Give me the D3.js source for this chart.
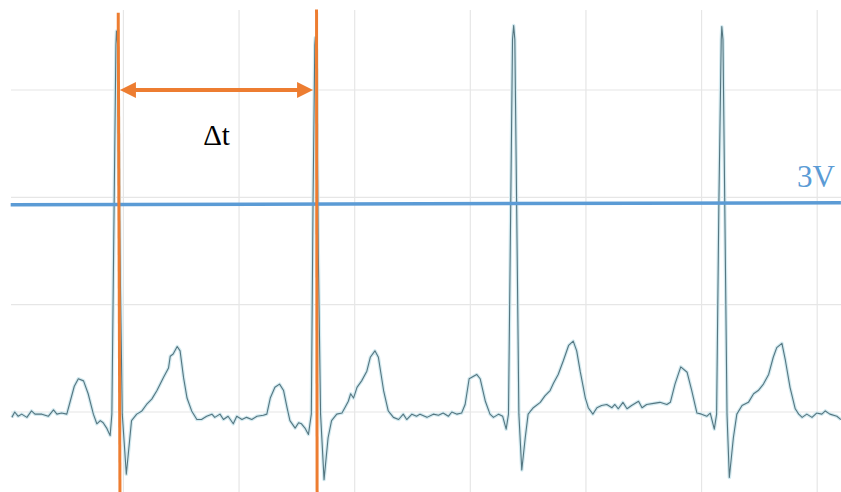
<!DOCTYPE html>
<html lang="en">
<head>
	<meta charset="utf-8">
	<title>ECG - R peak interval</title>
	<script src="https://cdnjs.cloudflare.com/ajax/libs/d3/7.8.5/d3.min.js"></script>
	<style>
		body { margin:0; background:#fff; }
		.grid line { stroke:#e6e6e6; stroke-width:1.2; }
		.trace-glow { fill:none; stroke:#d3eaf0; stroke-width:3.5; stroke-linejoin:round; }
		.trace { fill:none; stroke:#557680; stroke-width:1.1; stroke-linejoin:round; }
		.serif { font-family:'Liberation Serif', 'Times New Roman', serif; }
	</style>
</head>
<body>
	<div class="chart"></div>

	<script>
		// time in ms, voltage in grid units (one division per unit)
		var timeMs = [7,12,18,24,33,41,47,59,70,79,85,93,102,
			108,115,122,131,139,148,154,160,165,171,177,
			180,184,187,188,190,194,198,205,
			214,223,232,240,249,258,269,278,281,286,293,298,304,310,318,327,335,344,353,358,367,373,381,390,396,405,413,422,431,442,448,
			454,462,470,477,483,488,497,503,508,514,520,
			525,528,531,532,534,537,541,547,
			554,560,569,578,583,589,593,598,604,612,621,627,635,641,650,658,667,676,684,690,699,707,713,725,736,745,753,762,768,777,785,
			791,798,811,817,826,834,840,849,856,862,
			866,870,873,875,877,881,884,889,
			895,900,909,921,929,938,944,952,961,970,978,984,990,999,1004,1012,1019,1027,1036,1045,1050,1056,1064,1071,1079,1091,1097,1105,1117,1128,1140,1146,
			1154,1164,1175,1183,1192,1200,1209,1215,1222,
			1226,1230,1234,1235,1237,1241,1244,1248,
			1255,1261,1270,1281,1290,1298,1307,1316,1324,1330,1339,1345,1353,1362,1368,1374,1382,1391,1399,1408,1414,1422,1434,1441];

		var volts = [-0.05,0.00,-0.04,-0.02,-0.05,0.01,-0.02,-0.02,-0.04,0.02,-0.02,-0.01,-0.02,
			0.10,0.24,0.31,0.29,0.17,-0.02,-0.11,-0.08,-0.10,-0.15,-0.22,
			-0.02,1.97,3.42,3.55,3.42,1.50,-0.02,-0.58,
			-0.08,-0.02,0.01,0.07,0.12,0.20,0.32,0.41,0.52,0.54,0.61,0.57,0.32,0.13,0.01,-0.07,-0.07,-0.04,-0.02,-0.05,-0.02,-0.07,-0.04,-0.11,-0.04,-0.07,-0.05,-0.07,-0.04,-0.03,-0.02,
			0.13,0.23,0.26,0.20,0.04,-0.08,-0.15,-0.10,-0.11,-0.15,-0.21,
			-0.02,1.97,3.42,3.49,3.37,1.50,-0.02,-0.63,
			-0.24,-0.08,-0.02,-0.01,0.04,0.10,0.17,0.13,0.23,0.29,0.38,0.51,0.57,0.51,0.20,0.01,-0.05,-0.07,-0.02,-0.07,-0.02,-0.04,-0.02,-0.05,-0.02,-0.03,-0.01,-0.04,0.00,-0.02,-0.01,
			0.07,0.31,0.35,0.31,0.10,-0.02,-0.05,-0.02,-0.04,-0.16,
			-0.02,1.97,3.47,3.60,3.47,1.50,-0.02,-0.54,
			-0.24,-0.02,0.04,0.09,0.15,0.20,0.27,0.35,0.48,0.62,0.66,0.57,0.38,0.13,0.04,-0.02,0.04,0.06,0.07,0.04,0.07,0.03,0.09,0.03,0.06,0.10,0.04,0.07,0.08,0.09,0.07,0.09,
			0.26,0.42,0.37,0.20,-0.01,-0.02,-0.04,-0.01,-0.16,
			-0.02,1.97,3.47,3.59,3.47,1.50,-0.02,-0.61,
			-0.24,-0.02,0.06,0.09,0.17,0.20,0.26,0.35,0.51,0.60,0.64,0.48,0.23,0.03,-0.02,-0.05,-0.02,-0.05,-0.01,-0.02,0.01,-0.02,-0.04,-0.07];

		var gridTimes = [200,400,600,800,1000,1200,1400];
		var gridVolts = [0,1,2,3];

		// annotation values
		var markerTop = [3.72, 3.75];
		var markerBottom = -0.76;
		var markerTimesTop = [191, 534];
		var markerTimesBottom = [194, 535];
		var intervalEnds = [194, 528];
		var intervalVolt = 3.0;
		var thresholdTimes = [5, 1441];
		var thresholdVolts = [1.93, 1.95];
		var thresholdLabel = "3V";
		var intervalLabel = "\u0394t";

		var width = 841,
			height = 492;

		var x = d3.scaleLinear().domain([0, 1400]).range([7.8, 817.2]);
		var y = d3.scaleLinear().domain([0, 3]).range([412, 90]);

		var svg = d3.select(".chart").append("svg")
			.attr("width", width)
			.attr("height", height);

		// grid
		var grid = svg.append("g").attr("class", "grid");
		grid.selectAll("line.v").data(gridTimes).enter().append("line")
			.attr("class", "v")
			.attr("x1", function(d) { return x(d); })
			.attr("x2", function(d) { return x(d); })
			.attr("y1", 10)
			.attr("y2", height);
		grid.selectAll("line.h").data(gridVolts).enter().append("line")
			.attr("class", "h")
			.attr("x1", 11)
			.attr("x2", width)
			.attr("y1", function(d) { return y(d); })
			.attr("y2", function(d) { return y(d); });

		// ecg trace
		var points = timeMs.map(function(t, i) { return [t, volts[i]]; });
		var line = d3.line()
			.x(function(d) { return x(d[0]); })
			.y(function(d) { return y(d[1]); });

		svg.append("path").datum(points).attr("class", "trace-glow").attr("d", line);
		svg.append("path").datum(points).attr("class", "trace").attr("d", line);

		// threshold line
		svg.append("line")
			.attr("x1", x(thresholdTimes[0]))
			.attr("y1", y(thresholdVolts[0]))
			.attr("x2", x(thresholdTimes[1]))
			.attr("y2", y(thresholdVolts[1]))
			.attr("stroke", "#5b9bd5")
			.attr("stroke-width", 3.5);

		svg.append("text")
			.attr("class", "serif")
			.attr("x", 835)
			.attr("y", y(thresholdVolts[1]) - 16)
			.attr("text-anchor", "end")
			.style("font-size", "31px")
			.style("fill", "#5b9bd5")
			.text(thresholdLabel);

		// orange markers on the R peaks
		var orange = "#ed7d31";
		markerTimesTop.forEach(function(t, i) {
			svg.append("line")
				.attr("x1", x(t))
				.attr("y1", y(markerTop[i]))
				.attr("x2", x(markerTimesBottom[i]))
				.attr("y2", y(markerBottom))
				.attr("stroke", orange)
				.attr("stroke-width", 3);
		});

		// double arrow
		var ax1 = x(intervalEnds[0]),
			ax2 = x(intervalEnds[1]),
			ay = y(intervalVolt),
			headLen = 16,
			headHalf = 8;

		svg.append("line")
			.attr("x1", ax1 + headLen - 2)
			.attr("x2", ax2 - headLen + 2)
			.attr("y1", ay)
			.attr("y2", ay)
			.attr("stroke", orange)
			.attr("stroke-width", 4);

		svg.append("path")
			.attr("fill", orange)
			.attr("d", "M" + ax1 + "," + ay + "L" + (ax1 + headLen) + "," + (ay - headHalf) + "L" + (ax1 + headLen) + "," + (ay + headHalf) + "Z");
		svg.append("path")
			.attr("fill", orange)
			.attr("d", "M" + ax2 + "," + ay + "L" + (ax2 - headLen) + "," + (ay - headHalf) + "L" + (ax2 - headLen) + "," + (ay + headHalf) + "Z");

		svg.append("text")
			.attr("class", "serif")
			.attr("x", (ax1 + ax2) / 2)
			.attr("y", 145)
			.attr("text-anchor", "middle")
			.style("font-size", "29px")
			.style("fill", "#000")
			.text(intervalLabel);
	</script>
</body>
</html>
